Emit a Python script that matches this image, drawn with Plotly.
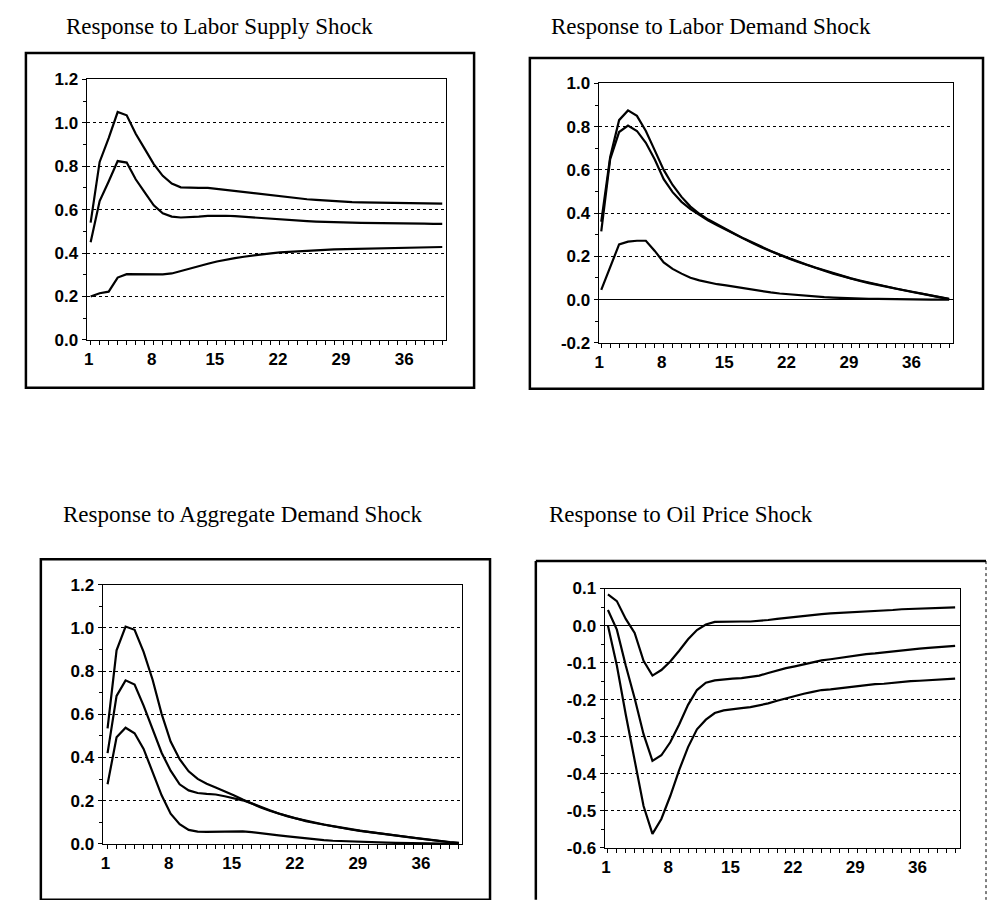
import plotly.graph_objects as go

# ---------------- data ----------------
periods = list(range(1, 41))

x_tickvals = [1, 8, 15, 22, 29, 36]
x_ticktext = ["1", "8", "15", "22", "29", "36"]

titles = [
    "Response to Labor Supply Shock",
    "Response to Labor Demand Shock",
    "Response to Aggregate Demand Shock",
    "Response to Oil Price Shock",
]

# Panel 1: labor supply shock
ls_upper = [0.54, 0.82, 0.93, 1.05, 1.035, 0.95, 0.88, 0.81, 0.756, 0.72,
            0.703, 0.70, 0.70, 0.70, 0.695, 0.692, 0.686, 0.68, 0.675, 0.67,
            0.665, 0.66, 0.655, 0.651, 0.648, 0.645, 0.642, 0.64, 0.637, 0.635,
            0.634, 0.633, 0.633, 0.632, 0.632, 0.631, 0.630, 0.629, 0.629, 0.628]
ls_mid = [0.45, 0.64, 0.73, 0.824, 0.817, 0.74, 0.68, 0.62, 0.583, 0.568,
          0.564, 0.565, 0.568, 0.571, 0.573, 0.572, 0.57, 0.567, 0.563, 0.56,
          0.556, 0.553, 0.55, 0.548, 0.547, 0.545, 0.543, 0.542, 0.541, 0.54,
          0.539, 0.539, 0.538, 0.538, 0.537, 0.537, 0.536, 0.536, 0.535, 0.535]
ls_lower = [0.20, 0.215, 0.222, 0.287, 0.303, 0.302, 0.301, 0.301, 0.302, 0.306,
            0.318, 0.329, 0.34, 0.351, 0.361, 0.37, 0.377, 0.383, 0.389, 0.394,
            0.399, 0.403, 0.406, 0.409, 0.411, 0.413, 0.415, 0.417, 0.418, 0.419,
            0.42, 0.421, 0.422, 0.423, 0.424, 0.425, 0.426, 0.426, 0.427, 0.428]

# Panel 2: labor demand shock
ld_upper = [0.36, 0.66, 0.83, 0.875, 0.85, 0.78, 0.69, 0.60, 0.53, 0.475,
            0.43, 0.397, 0.37, 0.347, 0.325, 0.303, 0.282, 0.262, 0.243, 0.225,
            0.208, 0.192, 0.177, 0.162, 0.148, 0.135, 0.122, 0.11, 0.098, 0.088,
            0.078, 0.068, 0.059, 0.051, 0.043, 0.035, 0.027, 0.019, 0.011, 0.003]
ld_mid = [0.315, 0.65, 0.775, 0.805, 0.78, 0.725, 0.648, 0.557, 0.497, 0.452,
          0.418, 0.39, 0.366, 0.344, 0.322, 0.301, 0.28, 0.26, 0.241, 0.223,
          0.206, 0.19, 0.175, 0.16, 0.146, 0.133, 0.12, 0.108, 0.096, 0.086,
          0.076, 0.067, 0.058, 0.05, 0.042, 0.034, 0.026, 0.018, 0.01, 0.002]
ld_lower = [0.045, 0.15, 0.255, 0.268, 0.272, 0.272, 0.225, 0.172, 0.142, 0.12,
            0.101, 0.089, 0.08, 0.071, 0.066, 0.059, 0.052, 0.045, 0.039, 0.033,
            0.028, 0.024, 0.02, 0.017, 0.014, 0.011, 0.009, 0.007, 0.005, 0.004,
            0.003, 0.003, 0.002, 0.002, 0.001, 0.001, 0.001, 0.0, 0.0, 0.0]

# Panel 3: aggregate demand shock
ad_upper = [0.535, 0.896, 1.006, 0.991, 0.889, 0.76, 0.602, 0.474, 0.392, 0.336,
            0.301, 0.279, 0.261, 0.244, 0.226, 0.206, 0.187, 0.169, 0.154, 0.14,
            0.128, 0.117, 0.107, 0.098, 0.09, 0.083, 0.075, 0.068, 0.062, 0.056,
            0.05, 0.044, 0.039, 0.033, 0.029, 0.024, 0.018, 0.014, 0.009, 0.005]
ad_mid = [0.42, 0.685, 0.757, 0.738, 0.64, 0.527, 0.422, 0.339, 0.276, 0.248,
          0.236, 0.232, 0.229, 0.221, 0.212, 0.202, 0.188, 0.171, 0.156, 0.141,
          0.129, 0.118, 0.106, 0.097, 0.089, 0.082, 0.074, 0.067, 0.061, 0.055,
          0.049, 0.043, 0.038, 0.032, 0.028, 0.023, 0.017, 0.013, 0.008, 0.004]
ad_lower = [0.276, 0.494, 0.538, 0.512, 0.44, 0.33, 0.225, 0.14, 0.092, 0.065,
            0.057, 0.056, 0.057, 0.059, 0.059, 0.058, 0.055, 0.051, 0.046, 0.04,
            0.035, 0.03, 0.026, 0.022, 0.018, 0.015, 0.013, 0.011, 0.009, 0.008,
            0.007, 0.006, 0.005, 0.004, 0.004, 0.003, 0.002, 0.002, 0.001, 0.001]

# Panel 4: oil price shock
oil_upper = [0.084, 0.066, 0.018, -0.02, -0.095, -0.135, -0.12, -0.097, -0.068, -0.037,
             -0.012, 0.003, 0.01, 0.011, 0.011, 0.011, 0.011, 0.012, 0.015, 0.018,
             0.021, 0.024, 0.026, 0.029, 0.031, 0.033, 0.034, 0.036, 0.037, 0.039,
             0.04, 0.041, 0.042, 0.044, 0.045, 0.046, 0.047, 0.048, 0.048, 0.049]
oil_mid = [0.042, -0.011, -0.108, -0.196, -0.293, -0.365, -0.35, -0.315, -0.267, -0.214,
           -0.174, -0.154, -0.148, -0.145, -0.143, -0.142, -0.139, -0.135, -0.128, -0.121,
           -0.115, -0.11, -0.104, -0.098, -0.094, -0.091, -0.087, -0.084, -0.08, -0.077,
           -0.075, -0.072, -0.07, -0.067, -0.064, -0.062, -0.06, -0.058, -0.056, -0.055]
oil_lower = [0.0, -0.108, -0.24, -0.364, -0.487, -0.562, -0.522, -0.46, -0.39, -0.328,
             -0.28, -0.254, -0.236, -0.229, -0.225, -0.223, -0.22, -0.216, -0.21, -0.203,
             -0.196, -0.19, -0.184, -0.179, -0.174, -0.172, -0.169, -0.166, -0.164, -0.161,
             -0.158, -0.157, -0.154, -0.152, -0.15, -0.149, -0.147, -0.145, -0.144, -0.143]

y_tickvals_ls = [0.0, 0.2, 0.4, 0.6, 0.8, 1.0, 1.2]
y_ticktext_ls = ["0.0", "0.2", "0.4", "0.6", "0.8", "1.0", "1.2"]
y_tickvals_ld = [-0.2, 0.0, 0.2, 0.4, 0.6, 0.8, 1.0]
y_ticktext_ld = ["-0.2", "0.0", "0.2", "0.4", "0.6", "0.8", "1.0"]
y_tickvals_oil = [-0.6, -0.5, -0.4, -0.3, -0.2, -0.1, 0.0, 0.1]
y_ticktext_oil = ["-0.6", "-0.5", "-0.4", "-0.3", "-0.2", "-0.1", "0.0", "0.1"]

# ---------------- layout helpers ----------------
W, H = 987, 900


def px(x):
    return x / W


def py(y):
    return 1 - y / H


panels = [
    dict(series=(ls_upper, ls_mid, ls_lower), yv=y_tickvals_ls, yt=y_ticktext_ls,
         yr=[0.0, 1.2], ydt=0.1, plot=(83, 444, 72, 338), xr=[0.56, 40.44],
         frame=(22, 472, 45, 387), title_pos=(60, 18)),
    dict(series=(ld_upper, ld_mid, ld_lower), yv=y_tickvals_ld, yt=y_ticktext_ld,
         yr=[-0.2, 1.0], ydt=0.1, plot=(597, 953, 76, 341), xr=[0.7, 40.45],
         frame=(528, 983, 50, 388), title_pos=(547, 18)),
    dict(series=(ad_upper, ad_mid, ad_lower), yv=y_tickvals_ls, yt=y_ticktext_ls,
         yr=[0.0, 1.2], ydt=0.1, plot=(99, 460, 588, 853), xr=[0.45, 40.35],
         frame=(37, 488, 562, 910), title_pos=(57, 516)),
    dict(series=(oil_upper, oil_mid, oil_lower), yv=y_tickvals_oil, yt=y_ticktext_oil,
         yr=[-0.6, 0.1], ydt=0.05, plot=(603, 960, 592, 857), xr=[0.62, 40.56],
         frame=(534, 986, 564, 910), title_pos=(545, 516)),
]

tick_font = dict(family="Arial, Liberation Sans, sans-serif", size=17, color="black", weight="bold")
title_font = dict(family="Times New Roman, Liberation Serif, serif", size=23, color="black")

fig = go.Figure()
layout = dict(
    width=W, height=H,
    margin=dict(l=0, r=0, t=0, b=0),
    paper_bgcolor="white", plot_bgcolor="white",
    showlegend=False,
    shapes=[], annotations=[],
)

for i, p in enumerate(panels, start=1):
    xa = "x" if i == 1 else f"x{i}"
    ya = "y" if i == 1 else f"y{i}"
    for s in p["series"]:
        fig.add_trace(go.Scatter(x=periods, y=s, mode="lines",
                                 line=dict(color="black", width=2.2),
                                 xaxis=xa, yaxis=ya, hoverinfo="skip"))
    x0, x1, y0, y1 = p["plot"]
    layout[f"xaxis{i}"] = dict(
        domain=[px(x0), px(x1)], range=p["xr"], anchor=ya,
        tickmode="array", tickvals=x_tickvals, ticktext=x_ticktext,
        ticks="outside", ticklen=4, tickwidth=1, tickcolor="black",
        minor=dict(tickmode="linear", tick0=1, dtick=1, ticks="outside",
                   ticklen=4, tickwidth=1, tickcolor="black", showgrid=False),
        showline=True, linecolor="black", linewidth=1, mirror=True,
        showgrid=False, zeroline=False, tickfont=tick_font,
        ticklabelshift=-2, fixedrange=True,
    )
    layout[f"xaxis{i + 4}"] = dict(
        overlaying=xa, anchor=ya, range=p["xr"],
        tickmode="linear", tick0=1, dtick=1, ticks="inside", ticklen=4,
        tickwidth=1, tickcolor="black", showticklabels=False,
        showline=False, showgrid=False, zeroline=False, fixedrange=True,
    )
    layout[f"yaxis{i}"] = dict(
        domain=[py(y1), py(y0)], range=p["yr"], anchor=xa,
        tickmode="array", tickvals=p["yv"], ticktext=p["yt"],
        ticks="outside", ticklen=4, tickwidth=1, tickcolor="black",
        minor=dict(tickmode="linear", tick0=p["yr"][0], dtick=p["ydt"], ticks="outside",
                   ticklen=3, tickwidth=1, tickcolor="black", showgrid=False),
        showline=True, linecolor="black", linewidth=1, mirror=True,
        showgrid=True, gridcolor="black", gridwidth=1, griddash="dot",
        zeroline=True, zerolinecolor="black", zerolinewidth=1,
        tickfont=tick_font, fixedrange=True,
    )
    layout[f"yaxis{i + 4}"] = dict(
        overlaying=ya, anchor=xa, range=p["yr"],
        tickmode="linear", tick0=p["yr"][0], dtick=p["ydt"], ticks="inside", ticklen=3,
        tickwidth=1, tickcolor="black", showticklabels=False,
        showline=False, showgrid=False, zeroline=False, fixedrange=True,
    )
    # outer frame
    fx0, fx1, fy0, fy1 = p["frame"]
    if i == 4:
        for (a, b, c, d) in [(fx0, fy0, fx1, fy0), (fx0, fy0, fx0, fy1)]:
            layout["shapes"].append(dict(type="line", xref="paper", yref="paper",
                                         x0=px(a), y0=py(b), x1=px(c), y1=py(d),
                                         line=dict(color="black", width=2.5)))
        layout["shapes"].append(dict(type="line", xref="paper", yref="paper",
                                     x0=px(fx1), y0=py(fy0), x1=px(fx1), y1=py(fy1),
                                     line=dict(color="black", width=1, dash="dot")))
    else:
        layout["shapes"].append(dict(type="rect", xref="paper", yref="paper",
                                     x0=px(fx0), x1=px(fx1), y0=py(fy1), y1=py(fy0),
                                     line=dict(color="black", width=2.5),
                                     fillcolor="rgba(0,0,0,0)"))
    tx, ty = p["title_pos"]
    layout["annotations"].append(dict(text=titles[i - 1], xref="paper", yref="paper",
                                      x=px(tx), y=py(ty), xanchor="left", yanchor="middle",
                                      showarrow=False, font=title_font))

# rename first axes to plotly's default names
layout["xaxis"] = layout.pop("xaxis1")
layout["yaxis"] = layout.pop("yaxis1")
layout["xaxis5"]["overlaying"] = "x"
layout["yaxis5"]["overlaying"] = "y"

fig.update_layout(**layout)
fig.write_html("out.html")
